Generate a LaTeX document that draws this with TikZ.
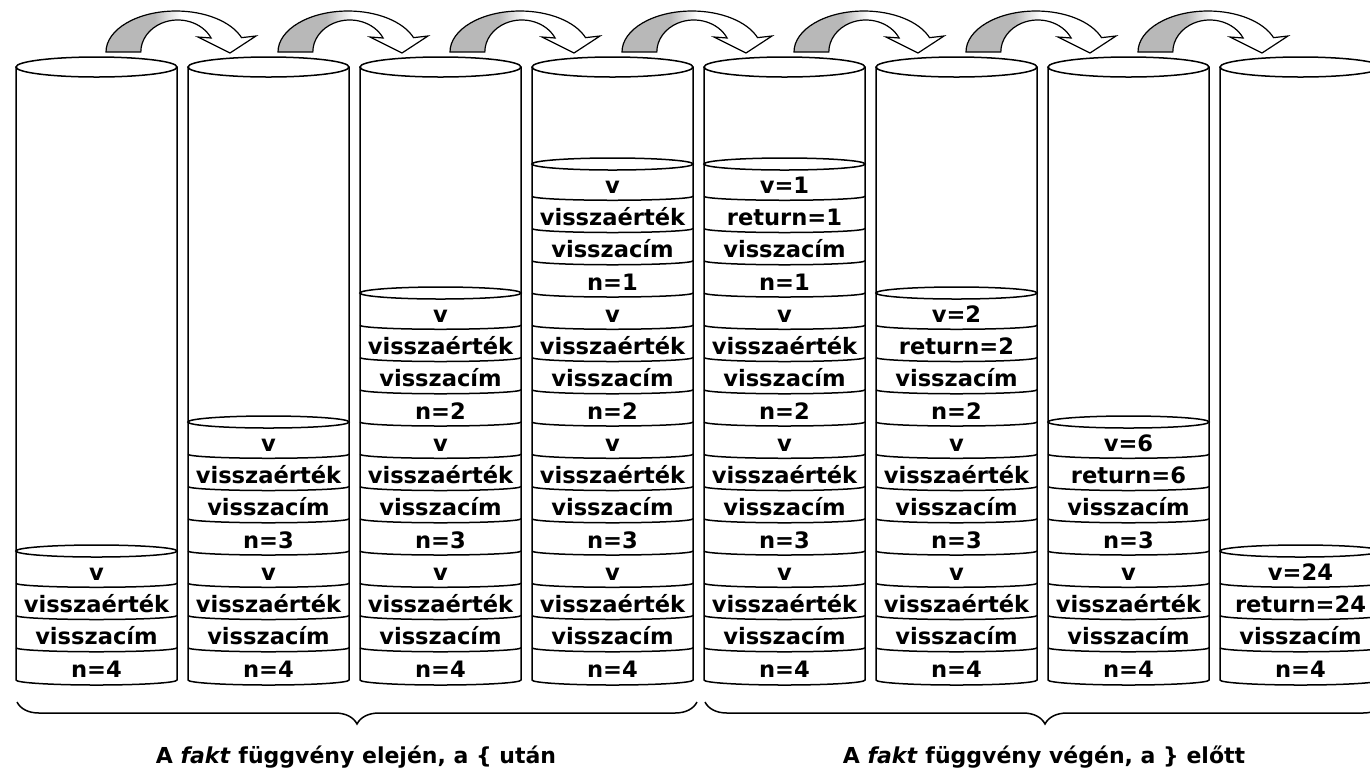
\documentclass[tikz,border=0pt]{standalone}
\usepackage{fontspec}
\setmainfont{DejaVu Sans}
\usetikzlibrary{decorations.pathreplacing}
\pgfdeclarehorizontalshading{arrowshade}{100bp}{color(0bp)=(black!28); color(41bp)=(black!28); color(50bp)=(white); color(100bp)=(white)}
\newcommand\stackframe[5]{%
  \pgfmathsetmacro\fx{96.5+172*#1}%
  \foreach \r/\t in {0/{n=#3},1/{visszacím},2/{#5},3/{#4}} {
    \pgfmathsetmacro\ty{680-(4*#2+\r)*32.25-3}
    \node[lbl] (t#1-#2-\r) at (\fx,\ty) {\t};
  }%
}
\begin{document}
\begin{tikzpicture}[x=0.5pt,y=-0.5pt,
  cyl/.style={draw=black,line width=0.75pt},
  lbl/.style={font=\fontsize{11.3}{13}\selectfont\bfseries,inner sep=0pt,anchor=base},
  captxt/.style={font=\fontsize{11}{13}\selectfont\bfseries,inner sep=0pt,anchor=base},
  brc/.style={draw=black,line width=0.75pt,decorate,decoration={brace,mirror,amplitude=11pt}},
  carrow/.style={draw=black,line width=0.6pt,shading=arrowshade}]
\useasboundingbox (0,0) rectangle (1370,773);
\clip (0,0) rectangle (1370,773);
% curved arrows
\foreach \c in {0,...,6} {
  \pgfmathsetmacro\dx{172*\c}
  \path[carrow] (106+\dx,52) arc[start angle=180,end angle=339.5,x radius=70,y radius=41]
    -- (256+\dx,36) -- (230+\dx,53) -- (198+\dx,37) -- (211.1+\dx,38)
    arc[start angle=334.1,end angle=180,x radius=37,y radius=32] -- cycle;
}
% cylinders
\foreach \c/\F in {0/1,1/2,2/3,3/4,4/4,5/3,6/2,7/1} {
  \pgfmathsetmacro\xl{16+172*\c}
  \pgfmathsetmacro\xr{\xl+161}
  \pgfmathsetmacro\xm{\xl+80.5}
  \pgfmathsetmacro\ytop{680-4*\F*32.25}
  \pgfmathtruncatemacro\nk{4*\F-1}
  \draw[cyl] (\xm,67) ellipse[x radius=80.5,y radius=10];
  \draw[cyl] (\xr,67) -- (\xr,680) arc[start angle=0,end angle=180,x radius=80.5,y radius=5] -- (\xl,67);
  \draw[cyl] (\xm,\ytop) ellipse[x radius=80.5,y radius=6];
  \foreach \k in {1,...,\nk} {
    \draw[cyl] (\xl,{680-\k*32.25}) arc[start angle=180,end angle=0,x radius=80.5,y radius=4];
  }
}
% labels
\stackframe{0}{0}{4}{v}{visszaérték}
\stackframe{1}{0}{4}{v}{visszaérték}
\stackframe{1}{1}{3}{v}{visszaérték}
\stackframe{2}{0}{4}{v}{visszaérték}
\stackframe{2}{1}{3}{v}{visszaérték}
\stackframe{2}{2}{2}{v}{visszaérték}
\stackframe{3}{0}{4}{v}{visszaérték}
\stackframe{3}{1}{3}{v}{visszaérték}
\stackframe{3}{2}{2}{v}{visszaérték}
\stackframe{3}{3}{1}{v}{visszaérték}
\stackframe{4}{0}{4}{v}{visszaérték}
\stackframe{4}{1}{3}{v}{visszaérték}
\stackframe{4}{2}{2}{v}{visszaérték}
\stackframe{4}{3}{1}{v=1}{return=1}
\stackframe{5}{0}{4}{v}{visszaérték}
\stackframe{5}{1}{3}{v}{visszaérték}
\stackframe{5}{2}{2}{v=2}{return=2}
\stackframe{6}{0}{4}{v}{visszaérték}
\stackframe{6}{1}{3}{v=6}{return=6}
\stackframe{7}{0}{4}{v=24}{return=24}
% braces and captions
\coordinate (b1s) at (17,702);
\coordinate (b1e) at (697,702);
\coordinate (b2s) at (705,702);
\coordinate (b2e) at (1385,702);
\draw[brc] (b1s) -- (b1e);
\draw[brc] (b2s) -- (b2e);
\node[captxt] (cap1) at (356,763) {A \textit{fakt} függvény elején, a \{ után};
\node[captxt] (cap2) at (1044,763) {A \textit{fakt} függvény végén, a \} előtt};
\end{tikzpicture}
\end{document}
